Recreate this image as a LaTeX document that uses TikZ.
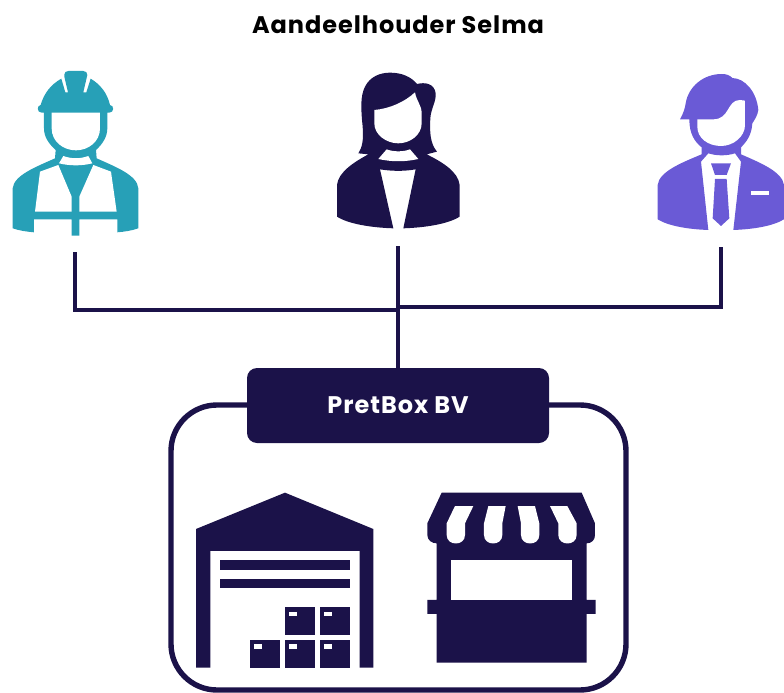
\documentclass[tikz,border=0pt]{standalone}
\usepackage{fontspec}
\setmainfont{Poppins}
\newfontfamily\spacedfont[LetterSpace=4]{Poppins}
\usetikzlibrary{positioning}
\definecolor{navy}{HTML}{1B1249}
\definecolor{teal}{HTML}{27A0B7}
\definecolor{violet}{HTML}{6A5AD6}

\begin{document}
\begin{tikzpicture}[
  x=1pt, y=-1pt,
  link/.style={draw=navy, line width=4pt},
  personbox/.style={inner sep=0pt, minimum width=128pt},
  shopbox/.style={draw=navy, line width=5.4pt, rounded corners=46pt, fill=white,
                  minimum width=455pt, minimum height=285pt},
  namebox/.style={fill=navy, rounded corners=10pt, minimum width=302pt, minimum height=75pt,
                  text=white, font=\spacedfont\bfseries\fontsize{24}{28}\selectfont},
  titlebox/.style={font=\spacedfont\bfseries\fontsize{24}{28}\selectfont, text=black},
  icon/.style={xshift=#1pt, x=0.3333pt, y=-0.3333pt},
  gap/.style={fill=white}
]
\useasboundingbox (0,0) rectangle (784,693);

% Title and the three shareholders (boxes hold the icons, south = start of the line)
\node[titlebox] (title) at (398,25) {Aandeelhouder Selma};
\node[personbox, minimum height=182pt] (worker)   at (75,161)  {};
\node[personbox, minimum height=176pt] (director) at (398,158) {};
\node[personbox, minimum height=177pt] (manager)  at (721,158.5) {};

% Company frame with its name on top
\node[shopbox] (shop) at (398.5,547.5) {};
\node[namebox] (pretbox) at (398,405.5) {\raisebox{-2pt}{PretBox BV}};

% Joints of the tree
\coordinate (hubleft)  at (398,310);
\coordinate (hubright) at (398,307);

% Lines
\draw[link] (worker.south) |- (hubleft);
\draw[link] (manager.south) |- (hubright);
\draw[link] (director.south) -- (pretbox.north);

% Worker
\begin{scope}[icon=0, yshift=-60pt]
  \fill[teal] (38,385) .. controls (42,345) and (110,320) .. (165,295) -- (167,270)
    .. controls (145,250) and (132,230) .. (132,205) -- (132,158) -- (125,158)
    .. controls (110,158) and (110,136) .. (122,135)
    .. controls (132,100) and (152,74) .. (184,56) -- (196,97) -- (204,97) -- (193,50) -- (193,44)
    .. controls (193,37) and (198,33) .. (205,33) -- (250,33)
    .. controls (258,33) and (262,38) .. (262,45) -- (250,97) -- (259,97) -- (272,56)
    .. controls (302,74) and (322,100) .. (330,135)
    .. controls (343,136) and (343,158) .. (328,158) -- (322,158) -- (322,205)
    .. controls (322,230) and (308,252) .. (288,270) -- (290,295)
    .. controls (345,320) and (412,345) .. (415,385) -- (415,505)
    .. controls (395,512) and (375,515) .. (352,517) -- (352,478) -- (238,478) -- (238,527) -- (215,527)
    -- (215,478) -- (102,478) -- (102,517) .. controls (80,515) and (58,512) .. (38,505) -- cycle;
  \fill[gap] (155,158) -- (300,158) -- (300,205)
    .. controls (300,245) and (265,271) .. (228,271)
    .. controls (190,271) and (155,245) .. (155,205) -- cycle;
  \fill[gap] (190,288) .. controls (215,297) and (240,297) .. (265,288) -- (277,310)
    .. controls (245,318) and (210,318) .. (177,310) -- cycle;
  \fill[gap] (120,335) -- (175,315) -- (215,410) -- (215,455) -- (105,455) -- cycle;
  \fill[gap] (333,335) -- (280,315) -- (238,410) -- (238,455) -- (350,455) -- cycle;
\end{scope}

% Director
\begin{scope}[icon=325, yshift=-60pt]
  \fill[navy] (36,375) .. controls (40,335) and (90,305) .. (130,283) -- (100,280)
    .. controls (112,262) and (116,240) .. (113,200) .. controls (108,150) and (105,110) .. (120,80)
    .. controls (135,50) and (165,38) .. (195,38) .. controls (230,38) and (258,50) .. (276,72)
    .. controls (300,66) and (328,70) .. (332,100) .. controls (334,125) and (318,145) .. (316,175)
    .. controls (314,215) and (315,250) .. (336,275) -- (305,283)
    .. controls (350,305) and (400,335) .. (404,375) -- (404,470)
    .. controls (370,492) and (300,503) .. (235,505) -- (272,328)
    .. controls (240,334) and (200,334) .. (165,328) -- (205,505)
    .. controls (140,503) and (70,492) .. (36,470) -- cycle;
  \fill[gap] (148,150) .. controls (195,146) and (240,125) .. (270,97)
    .. controls (275,125) and (290,135) .. (290,160) -- (290,190)
    .. controls (290,225) and (255,250) .. (220,250)
    .. controls (185,250) and (148,225) .. (148,190) -- cycle;
  \fill[gap] (185,268) .. controls (205,276) and (235,276) .. (255,268) -- (280,297)
    .. controls (240,306) and (200,306) .. (160,297) -- cycle;
\end{scope}

% Manager
\begin{scope}[icon=645, yshift=-60pt]
  \fill[violet] (38,375) .. controls (42,335) and (110,308) .. (170,283) -- (170,262)
    .. controls (148,245) and (133,220) .. (133,178) -- (105,178)
    .. controls (115,160) and (120,145) .. (122,130)
    .. controls (130,80) and (175,42) .. (230,42) .. controls (245,42) and (255,46) .. (262,54)
    .. controls (300,55) and (335,95) .. (340,150) .. controls (338,165) and (330,178) .. (322,190)
    .. controls (320,225) and (305,245) .. (288,262) -- (288,283)
    .. controls (345,308) and (412,335) .. (417,375) -- (417,478)
    .. controls (385,498) and (325,508) .. (265,510) -- (288,305) -- (270,280)
    .. controls (245,288) and (215,288) .. (190,280) -- (168,305) -- (190,510)
    .. controls (130,508) and (70,498) .. (38,478) -- cycle;
  \fill[gap] (157,178) -- (205,178) .. controls (255,178) and (245,120) .. (285,120) -- (300,122)
    -- (300,195) .. controls (300,230) and (265,258) .. (228,258)
    .. controls (190,258) and (157,235) .. (157,200) -- cycle;
  \fill[violet] (198,310) -- (258,310) -- (245,345) -- (210,345) -- cycle;
  \fill[violet] (210,357) -- (245,357) -- (253,475) -- (228,498) -- (203,475) -- cycle;
  \fill[gap] (317,393) rectangle (371,405);
\end{scope}

% Warehouse
\begin{scope}[icon=180, yshift=-480pt]
  \fill[navy] (48,147) -- (315,38) -- (580,147) -- (580,563) -- (539,563) -- (539,213)
    -- (91,213) -- (91,563) -- (48,563) -- cycle;
  \fill[navy] (119,241) rectangle (511,269);
  \fill[navy] (119,297) rectangle (511,325);
  \foreach \bx/\by in {315/381, 420/381, 210/479, 315/479, 420/479} {
    \fill[navy] (\bx,\by) rectangle +(91,84);
    \fill[gap] (\bx+13,\by+14) rectangle +(22,14);
  }
\end{scope}

% Stall
\begin{scope}[icon=410, yshift=-480pt]
  \fill[navy] (95,38) -- (515,38) -- (555,130) -- (555,165)
    .. controls (555,180) and (545,190) .. (530,190) -- (530,360) -- (557,360) -- (557,402)
    -- (530,402) -- (530,548) -- (80,548) -- (80,402) -- (52,402) -- (52,360) -- (80,360)
    -- (80,190) .. controls (65,190) and (52,180) .. (52,165) -- (52,130) -- cycle;
  \fill[gap] (122,240) rectangle (487,360);
  \fill[gap] (135,78) -- (190,78) -- (165,130) -- (165,165)
    .. controls (165,199) and (110,199) .. (110,165) -- (110,130) -- cycle;
  \fill[gap] (235,78) -- (287,78) -- (277,130) -- (277,165)
    .. controls (277,199) and (222,199) .. (222,165) -- (222,130) -- cycle;
  \fill[gap] (323,78) -- (375,78) -- (388,130) -- (388,165)
    .. controls (388,199) and (333,199) .. (333,165) -- (333,130) -- cycle;
  \fill[gap] (420,78) -- (472,78) -- (500,130) -- (500,165)
    .. controls (500,199) and (445,199) .. (445,165) -- (445,130) -- cycle;
\end{scope}

\end{tikzpicture}
\end{document}
